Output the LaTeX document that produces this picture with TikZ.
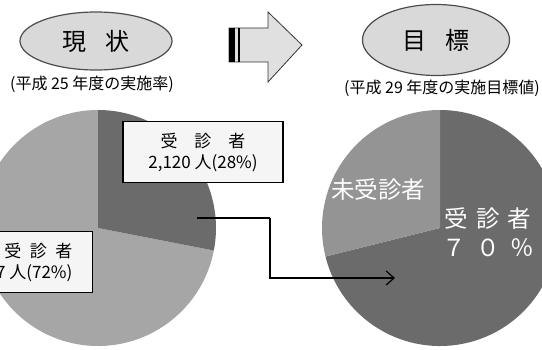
\documentclass[tikz,border=0pt]{standalone}
\usepackage{fontspec}
\setmainfont{Noto Sans CJK JP}
\usetikzlibrary{
  arrows.meta,
  shapes.geometric,
  chains,
  scopes,
  positioning
}

\begin{document}
\begin{tikzpicture}[
      x=1pt, y=1pt,
      title/.style={
         ellipse,
         draw=black!70,
         fill=black!15,
         inner sep=0pt,
         font=\fontsize{24}{28}\selectfont
      },
      caption/.style={
         font=\fontsize{16}{20}\selectfont
      },
      count box/.style={
         rectangle,
         draw=black,
         fill=black!4,
         align=center,
         minimum height=61pt,
         font=\fontsize{17}{21}\selectfont
      },
      pie text/.style={
         text=white,
         align=center,
         font=\fontsize{23.5}{29}\selectfont
      },
      point/.style={coordinate},
      tip/.style={-{Straight Barb[length=8pt,width=14pt]}},
      vh path/.style={to path={|- (\tikztotarget)}},
      line width=1.2pt
    ]
    \useasboundingbox (0,0) rectangle (542,349);
    % left pie (now)
    \fill[black!35] (98,121) -- +(-11:118) arc[start angle=-11, end angle=-270, radius=118] -- cycle;
    \fill[black!58] (98,121) -- +(90:118) arc[start angle=90, end angle=-11, radius=118] -- cycle;
    % right pie (goal)
    \fill[black!58] (440,121) -- +(194:118) arc[start angle=194, end angle=450, radius=118] -- cycle;
    \fill[black!42] (440,121) -- +(90:118) arc[start angle=90, end angle=194, radius=118] -- cycle;
    % headings
    \node (now) [title, minimum width=152pt, minimum height=58pt] at (96,308) {現\hspace{0.8em}状};
    \node (goal) [title, minimum width=147pt, minimum height=71pt] at (436,309) {目\hspace{0.8em}標};
    \node (nowcap) [caption] at (92,265) {(平成 25 年度の実施率)};
    \node (goalcap) [caption] at (442,261) {(平成 29 年度の実施目標値)};
    % block arrow
    \filldraw[fill=black!12, draw=black!80, line width=0.8pt] (229,321) -- (268,321) -- (268,337) -- (302,304)
       -- (268,267) -- (268,287) -- (229,287) -- cycle;
    \fill[black] (229,287) rectangle (235,321);
    \fill[black] (237.5,287) rectangle (239.5,321);
    % count labels
    \node (seen) [count box, minimum width=160pt] at (203,197)
       {受\hspace{1em}診\hspace{1em}者\\2,120 人(28\%)};
    \node (unseen) [count box, anchor=east, align=right, inner xsep=20pt] at (93,87)
       {受\hspace{0.5em}診\hspace{0.5em}者\\7 人(72\%)};
    \node (rest) [pie text] at (378,159) {未受診者};
    \node (target) [pie text] at (488,117) {受\hspace{0.35em}診\hspace{0.35em}者\\７\hspace{0.45em}０\hspace{0.45em}％};
    % connector
    \node (from) [point] at (197,131) {};
    \node (bend) [point] at (270,131) {};
    \node (to) [point] at (395,71) {};
  { [start chain]
       \chainin (from);
       \chainin (bend)    [join];
       \chainin (to)      [join=by {vh path,tip}];
  }
\end{tikzpicture}
\end{document}
